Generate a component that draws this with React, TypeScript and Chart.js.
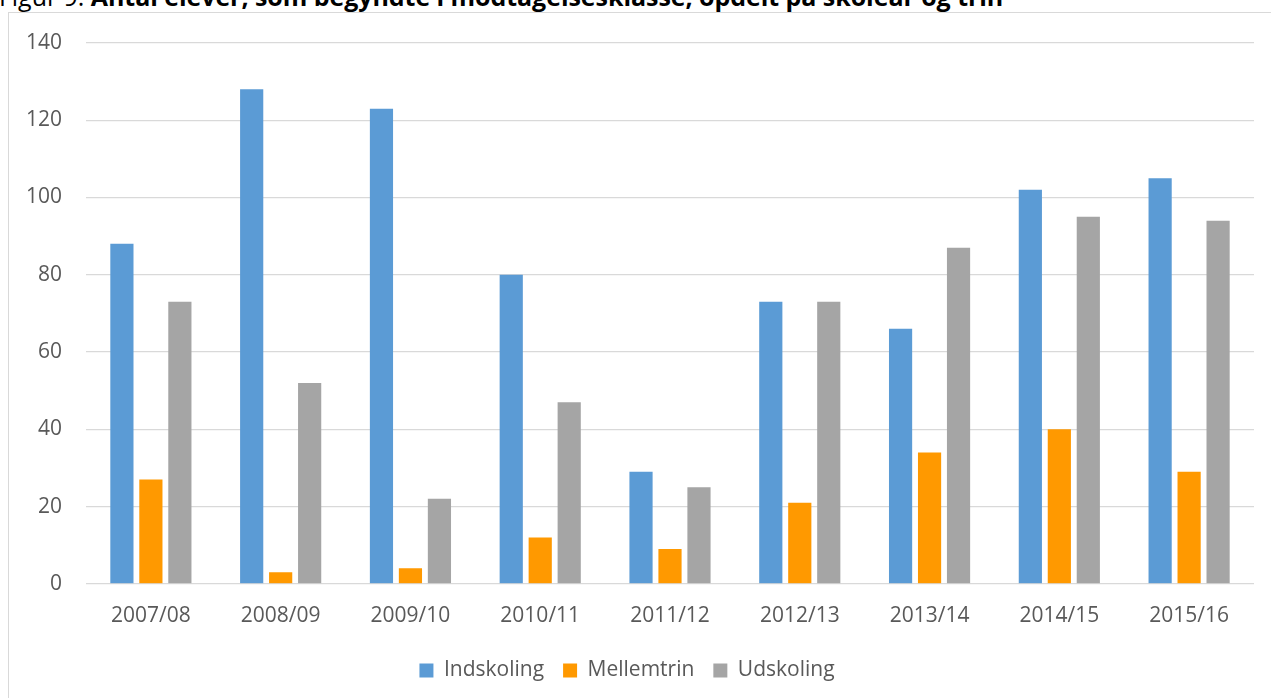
import React, { useEffect, useRef } from "react";
import { Chart, registerables } from "chart.js";

Chart.register(...registerables);

const categories = ["2007/08", "2008/09", "2009/10", "2010/11", "2011/12", "2012/13", "2013/14", "2014/15", "2015/16"];
const indskoling = [88, 128, 123, 80, 29, 73, 66, 102, 105];
const mellemtrin = [27, 3, 4, 12, 9, 21, 34, 40, 29];
const udskoling = [73, 52, 22, 47, 25, 73, 87, 95, 94];
const yTicks = [0, 20, 40, 60, 80, 100, 120, 140];

const FONT = "'Open Sans', 'Liberation Sans', sans-serif";

export default function App() {
  const ref = useRef<HTMLCanvasElement | null>(null);
  useEffect(() => {
    if (!ref.current) return;
    const chart = new Chart(ref.current, {
      type: "bar",
      data: {
        labels: categories,
        datasets: [
          { label: "Indskoling", data: indskoling, backgroundColor: "#5B9BD5" },
          { label: "Mellemtrin", data: mellemtrin, backgroundColor: "#FF9900" },
          { label: "Udskoling", data: udskoling, backgroundColor: "#A5A5A5" },
        ],
      },
      options: {
        animation: false,
        responsive: false,
        maintainAspectRatio: false,
        datasets: { bar: { barPercentage: 0.8, categoryPercentage: 0.67 } },
        layout: { padding: { top: 43, right: 17, bottom: 7, left: 0 } },
        plugins: {
          title: { display: false },
          tooltip: { enabled: false },
          legend: {
            position: "bottom",
            labels: {
              boxWidth: 14,
              boxHeight: 14,
              padding: 19,
              color: "#595959",
              font: { family: FONT, size: 21 },
            },
          },
        },
        scales: {
          x: {
            grid: { display: false },
            border: { display: false },
            ticks: { color: "#595959", font: { family: FONT, size: 21 }, padding: 12, maxRotation: 0 },
          },
          y: {
            min: 0,
            max: 140,
            afterBuildTicks: (s: any) => {
              s.ticks = yTicks.map((v) => ({ value: v }));
            },
            afterFit: (s: any) => {
              s.width = 86;
            },
            grid: { color: "#D9D9D9", lineWidth: 1.3, drawTicks: false },
            border: { display: false },
            ticks: { color: "#595959", font: { family: FONT, size: 21 }, padding: 24 },
          },
        },
      },
    });
    return () => chart.destroy();
  }, []);
  return (
    <div style={{ position: "absolute", left: 0, top: 0, width: 1271, height: 698, overflow: "hidden", background: "#fff" }}>
      <div
        style={{
          position: "absolute",
          left: -1,
          top: -21,
          whiteSpace: "nowrap",
          fontFamily: FONT,
          fontSize: 25,
          color: "#000",
          letterSpacing: -0.05,
        }}
      >
        Figur 9: <b>Antal elever, som begyndte i modtagelsesklasse, opdelt på skoleår og trin</b>
      </div>
      <div
        style={{
          position: "absolute",
          left: 8,
          top: 12,
          width: 1280,
          height: 700,
          border: "1.5px solid #D9D9D9",
          boxSizing: "border-box",
        }}
      />
      <canvas ref={ref} width={1271} height={698} style={{ position: "absolute", left: 0, top: 0 }} />
    </div>
  );
}
